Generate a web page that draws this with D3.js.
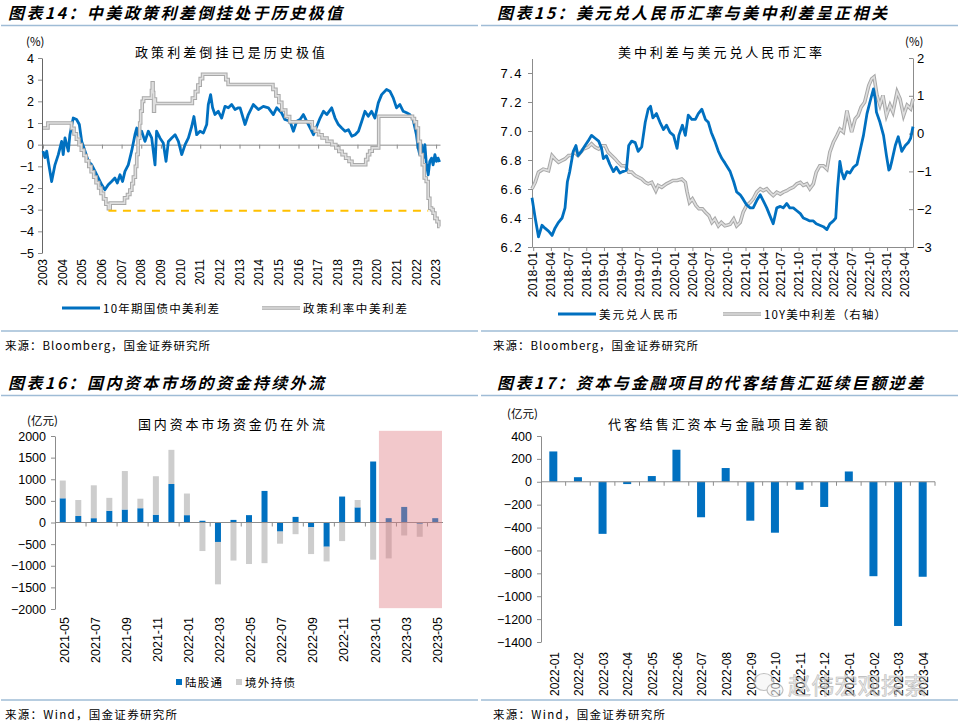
<!DOCTYPE html>
<html>
<head>
<meta charset="utf-8">
<script src="https://cdnjs.cloudflare.com/ajax/libs/d3/7.8.5/d3.min.js"></script>
<style>
  body { margin: 0; background: #fff; }
  svg text { font-family: "Noto Sans CJK SC", sans-serif; fill: #000; }
  .num { font-family: "Liberation Sans", Arial, sans-serif; font-size: 12px; }
  .title { font-size: 16px; font-weight: bold; font-style: italic; }
  .sub { font-size: 13px; }
  .small { font-size: 11.5px; }
</style>
</head>
<body>
<svg id="page" width="960" height="726"></svg>
<script>
// Chart 14: China minus US spreads, %
var bondSpread = [
  [2003.0,-0.3],[2003.1,-0.6],[2003.19,-0.3],[2003.27,-0.77],[2003.44,-1.7],[2003.61,-0.93],
  [2003.78,-0.46],[2003.95,0.15],[2004.03,-0.46],[2004.12,0.31],[2004.29,-0.3],[2004.37,0.46],
  [2004.54,1.23],[2004.71,1.16],[2004.85,0.93],[2004.97,0.15],[2005.14,-0.3],[2005.31,-0.77],
  [2005.48,-0.93],[2005.65,-1.23],[2005.82,-1.54],[2005.99,-1.85],[2006.15,-2.08],[2006.32,-1.85],
  [2006.49,-1.7],[2006.66,-1.54],[2006.78,-1.77],[2006.92,-1.39],[2007.05,-1.7],[2007.17,-1.23],
  [2007.34,-0.93],[2007.51,-0.3],[2007.68,0.46],[2007.77,0.77],[2007.85,0.31],[2008.02,0.62],
  [2008.19,0.15],[2008.36,0.62],[2008.53,0.31],[2008.7,-0.93],[2008.78,0.62],[2008.95,0.31],
  [2009.12,0.08],[2009.26,-0.77],[2009.38,0.15],[2009.55,0.31],[2009.72,0.46],[2009.89,0.15],
  [2010.06,-0.46],[2010.23,0.0],[2010.4,0.31],[2010.57,0.85],[2010.68,1.3],[2010.82,0.46],
  [2010.99,0.62],[2011.16,0.54],[2011.33,0.93],[2011.41,1.85],[2011.53,2.31],[2011.63,1.7],
  [2011.75,1.39],[2011.92,1.54],[2012.09,1.23],[2012.26,1.77],[2012.43,1.7],[2012.6,1.85],
  [2012.77,1.62],[2012.94,1.7],[2013.03,1.7],[2013.28,0.93],[2013.45,1.39],[2013.7,1.85],
  [2013.96,1.62],[2014.21,1.77],[2014.47,1.7],[2014.72,1.39],[2014.89,1.7],[2015.14,1.47],
  [2015.31,1.16],[2015.57,1.08],[2015.74,0.62],[2015.91,1.08],[2016.08,1.16],[2016.25,1.39],
  [2016.42,1.08],[2016.59,0.77],[2016.76,0.46],[2016.93,0.85],[2017.1,1.23],[2017.27,1.54],
  [2017.44,1.39],[2017.69,1.7],[2017.86,1.23],[2018.03,0.93],[2018.2,0.77],[2018.37,0.62],
  [2018.54,0.69],[2018.71,0.39],[2018.88,0.46],[2019.05,0.62],[2019.22,1.08],[2019.38,1.54],
  [2019.55,1.31],[2019.72,1.54],[2019.89,1.23],[2020.06,1.93],[2020.23,2.31],[2020.48,2.55],
  [2020.65,2.47],[2020.82,2.16],[2020.99,1.7],[2021.16,1.85],[2021.33,1.54],[2021.5,1.47],
  [2021.66,1.39],[2021.83,1.16],[2022.0,0.46],[2022.09,-0.15],[2022.17,-0.46],[2022.26,0.0],
  [2022.34,-0.62],[2022.43,0.0],[2022.51,-0.93],[2022.6,-1.39],[2022.68,-0.77],[2022.77,-0.62],
  [2022.85,-0.93],[2022.94,-0.46],[2023.02,-0.77],[2023.1,-0.62],[2023.18,-0.8]
];
var policySpread = [
  [2003.0,0.77],[2003.25,1.0],[2004.45,0.75],[2004.58,0.5],[2004.7,0.25],[2004.83,0.0],
  [2004.95,-0.25],[2005.08,-0.5],[2005.2,-0.75],[2005.33,-1.0],[2005.45,-1.25],[2005.58,-1.5],
  [2005.7,-1.75],[2005.83,-2.0],[2005.95,-2.25],[2006.08,-2.5],[2006.2,-2.75],[2006.33,-2.95],
  [2006.42,-2.7],[2007.15,-2.45],[2007.3,-2.3],[2007.42,-2.1],[2007.52,-1.8],[2007.6,-1.5],
  [2007.7,-1.0],[2007.77,-0.45],[2007.84,0.3],[2007.92,1.0],[2007.97,1.55],[2008.05,2.0],
  [2008.12,2.15],[2008.52,2.5],[2008.56,2.85],[2008.6,2.4],[2008.63,1.55],[2008.67,2.1],
  [2008.72,1.9],[2010.6,2.15],[2010.75,2.45],[2010.88,2.75],[2011.0,3.05],[2011.12,3.25],
  [2012.3,3.0],[2012.42,2.78],[2014.7,2.55],[2014.85,2.25],[2015.0,1.95],[2015.15,1.6],
  [2015.35,1.3],[2015.55,1.05],[2016.7,0.77],[2016.85,0.62],[2017.02,0.46],[2017.2,0.31],
  [2017.45,0.15],[2017.7,0.0],[2017.9,-0.15],[2018.05,-0.31],[2018.22,-0.46],[2018.4,-0.62],
  [2018.57,-0.77],[2018.72,-0.93],[2019.42,-0.69],[2019.52,-0.46],[2019.62,-0.3],[2019.75,-0.15],
  [2020.08,1.31],[2021.8,1.2],[2021.9,1.05],[2022.0,0.77],[2022.1,0.15],[2022.2,-0.46],
  [2022.3,-0.93],[2022.4,-1.54],[2022.5,-1.7],[2022.6,-2.47],[2022.68,-2.93],[2022.77,-3.0],
  [2022.85,-3.16],[2022.94,-3.4],[2023.05,-3.55],[2023.14,-3.78],[2023.18,-3.78]
];
var floorLevel = -3.05;
var floorSpan = [2006.33, 2022.6];
var years14 = d3.range(2003, 2024);

// Chart 15: USD/CNY (left) and 10Y US minus China spread (right), x = months since 2018-01
var usdCny = [
  [-0.2,6.54],[0.34,6.40],[0.9,6.27],[1.5,6.35],[2.0,6.33],[2.6,6.31],[3.2,6.28],[3.7,6.33],
  [4.3,6.37],[4.9,6.40],[5.4,6.47],[5.8,6.65],[6.2,6.72],[6.8,6.86],[7.25,6.90],[7.6,6.83],
  [8.2,6.86],[8.8,6.90],[9.3,6.93],[9.9,6.97],[10.5,6.95],[11.1,6.93],[11.6,6.88],[11.9,6.81],
  [12.4,6.83],[13.0,6.77],[13.6,6.72],[14.1,6.75],[14.7,6.71],[15.2,6.72],[15.8,6.73],[16.2,6.90],
  [16.7,6.93],[17.3,6.92],[17.8,6.86],[18.4,6.89],[19.0,7.06],[19.5,7.15],[19.9,7.17],[20.3,7.09],
  [20.9,7.12],[21.5,7.06],[22.1,7.01],[22.6,7.04],[23.2,6.99],[23.8,6.97],[24.4,6.88],[24.7,6.97],
  [25.3,7.04],[25.8,6.97],[26.3,7.11],[26.9,7.08],[27.5,7.08],[28.0,7.12],[28.6,7.15],[29.2,7.08],
  [29.7,7.06],[30.2,6.99],[30.8,6.93],[31.4,6.86],[32.0,6.81],[32.5,6.78],[33.4,6.72],[34.0,6.65],
  [34.5,6.58],[35.1,6.56],[35.6,6.53],[36.2,6.49],[36.8,6.47],[37.3,6.47],[37.9,6.52],[38.5,6.56],
  [39.0,6.52],[39.6,6.47],[40.1,6.42],[40.7,6.36],[41.3,6.47],[41.9,6.48],[42.4,6.47],[43.0,6.50],
  [43.5,6.47],[44.1,6.47],[44.7,6.45],[45.3,6.43],[45.8,6.40],[46.4,6.39],[46.9,6.38],[47.5,6.38],
  [48.0,6.36],[48.6,6.35],[49.2,6.34],[49.8,6.32],[50.3,6.36],[50.9,6.38],[51.3,6.40],[51.6,6.60],
  [52.0,6.79],[52.3,6.72],[52.7,6.67],[53.2,6.72],[53.7,6.71],[54.3,6.75],[54.9,6.77],[55.4,6.86],
  [56.0,6.97],[56.6,7.12],[57.1,7.20],[57.7,7.29],[58.0,7.22],[58.2,7.13],[58.8,7.06],[59.4,6.97],
  [59.9,6.83],[60.3,6.73],[60.5,6.74],[60.8,6.79],[61.4,6.90],[61.9,6.96],[62.5,6.86],[63.1,6.90],
  [63.6,6.92],[64.0,6.95],[64.4,7.03]
];
var usCnSpread = [
  [-0.2,-1.46],[0.34,-1.29],[0.9,-1.02],[1.7,-0.94],[2.6,-0.98],[3.2,-0.58],[3.7,-0.67],[4.3,-0.76],
  [4.9,-0.71],[5.4,-0.67],[6.0,-0.58],[6.5,-0.58],[7.0,-0.49],[7.6,-0.58],[8.5,-0.41],[9.3,-0.36],
  [9.9,-0.27],[10.5,-0.36],[11.1,-0.41],[11.6,-0.32],[12.2,-0.32],[12.7,-0.49],[13.3,-0.58],[13.9,-0.67],
  [14.4,-0.76],[15.0,-0.85],[15.6,-0.85],[16.2,-1.02],[16.7,-1.02],[17.3,-1.11],[17.8,-1.15],[18.4,-1.20],
  [19.0,-1.29],[19.5,-1.33],[20.1,-1.29],[20.8,-1.51],[21.2,-1.37],[21.8,-1.42],[22.6,-1.33],[23.1,-1.29],
  [23.7,-1.24],[24.4,-1.24],[25.2,-1.20],[25.8,-1.29],[26.1,-1.55],[26.5,-1.82],[27.0,-1.73],[27.6,-1.90],
  [28.1,-1.99],[28.7,-1.99],[29.2,-2.08],[29.8,-2.17],[30.3,-2.35],[30.8,-2.26],[31.4,-2.44],[31.9,-2.35],
  [32.5,-2.44],[33.0,-2.42],[33.4,-2.40],[34.0,-2.26],[34.5,-2.44],[35.1,-2.35],[35.6,-2.08],[36.2,-1.90],
  [36.8,-1.82],[37.3,-1.73],[37.9,-1.55],[38.5,-1.46],[39.0,-1.51],[39.6,-1.46],[40.1,-1.55],[40.7,-1.64],
  [41.3,-1.55],[41.9,-1.60],[42.4,-1.55],[43.0,-1.51],[43.5,-1.46],[44.1,-1.42],[44.7,-1.33],[45.3,-1.29],
  [45.8,-1.37],[46.4,-1.33],[46.9,-1.46],[47.5,-1.33],[48.0,-1.02],[48.6,-0.85],[49.2,-0.85],[49.8,-0.94],
  [50.3,-0.49],[50.9,-0.23],[51.5,-0.05],[52.0,0.12],[52.6,0.04],[53.2,0.61],[53.5,0.39],[54.0,0.04],
  [54.6,0.39],[55.1,0.48],[55.6,0.70],[56.2,0.83],[56.9,1.27],[57.4,1.45],[57.8,1.50],[58.3,1.01],
  [58.8,0.75],[59.3,1.01],[59.9,0.48],[60.5,0.75],[61.0,0.57],[61.7,1.10],[62.2,0.92],[62.8,0.48],
  [63.4,0.75],[64.0,0.66],[64.4,0.92]
];
var quarterTicks = d3.range(0, 64, 3);

// Chart 16: monthly flows, 亿元 (bond part stacked on the northbound part)
var months16 = ["2021-05","2021-06","2021-07","2021-08","2021-09","2021-10","2021-11","2021-12",
  "2022-01","2022-02","2022-03","2022-04","2022-05","2022-06","2022-07","2022-08","2022-09",
  "2022-10","2022-11","2022-12","2023-01","2023-02","2023-03","2023-04","2023-05"];
var northbound = [560,150,100,270,300,330,180,890,170,40,-450,60,170,730,-210,130,-110,-560,600,350,1410,100,360,-30,100];
var foreignBonds = [410,370,760,300,890,220,890,790,500,-660,-980,-880,-960,-940,-280,-270,-620,-340,-430,170,-860,-830,-300,-300,-15];
var highlight16 = { from: "2023-02", top: 2120, bottom: -1980 };

// Chart 17: capital & financial account FX settlement balance, 亿元
var months17 = ["2022-01","2022-02","2022-03","2022-04","2022-05","2022-06","2022-07","2022-08",
  "2022-09","2022-10","2022-11","2022-12","2023-01","2023-02","2023-03","2023-04"];
var settleBalance = [265,40,-455,-20,50,280,-310,120,-340,-445,-70,-220,90,-825,-1260,-830];

var BLUE = "#0070c0", AXIS = "#8c8c8c", RULE = "#9fbcd6";
var svg = d3.select("#page");

// shared bits -------------------------------------------------------------
function frame(x0, yTitle, title, titleLen, yRule, ySource, source, sourceLen) {
  svg.append("text").attr("class", "title")
     .attr("x", x0 === 0 ? 8 : 497)
     .attr("y", yTitle).attr("textLength", titleLen).attr("lengthAdjust", "spacing")
     .text(title);
  svg.append("line").attr("x1", x0 + 1).attr("x2", x0 + 478)
     .attr("y1", yRule).attr("y2", yRule)
     .attr("stroke", RULE).attr("stroke-width", 1.6);
  svg.append("line").attr("x1", x0 + 1).attr("x2", x0 + 478)
     .attr("y1", ySource - 19).attr("y2", ySource - 19)
     .attr("stroke", RULE).attr("stroke-width", 1.6);
  svg.append("text").attr("class", "small")
     .attr("x", x0 === 0 ? 5 : 493).attr("y", ySource)
     .attr("textLength", sourceLen).attr("lengthAdjust", "spacing")
     .text(source);
}

function styleAxis(g, size) {
  g.selectAll(".domain").attr("stroke", AXIS);
  g.selectAll(".tick line").attr("stroke", AXIS);
  g.selectAll("text").attr("class", "num").style("font-size", (size || 12) + "px");
}

function rotLabels(items, xf, yTop, size, fmt) {
  svg.append("g").selectAll("text").data(items).enter().append("text")
     .attr("class", "num")
     .style("font-size", size + "px")
     .attr("transform", function (d) { return "translate(" + xf(d) + "," + yTop + ") rotate(-90)"; })
     .attr("text-anchor", "end")
     .attr("dy", "0.35em")
     .text(fmt);
}

function grayLine(g, data, line) {
  g.append("path").datum(data).attr("d", line)
   .attr("fill", "none").attr("stroke", "#a8a8a8").attr("stroke-width", 3.6);
  g.append("path").datum(data).attr("d", line)
   .attr("fill", "none").attr("stroke", "#dedede").attr("stroke-width", 1.6);
}

function legendLine(x, y, color, label, len, gray) {
  if (gray) {
    svg.append("line").attr("x1", x).attr("x2", x + 38).attr("y1", y).attr("y2", y)
       .attr("stroke", "#a8a8a8").attr("stroke-width", 3.6);
    svg.append("line").attr("x1", x).attr("x2", x + 38).attr("y1", y).attr("y2", y)
       .attr("stroke", "#dedede").attr("stroke-width", 1.6);
  } else {
    svg.append("line").attr("x1", x).attr("x2", x + 38).attr("y1", y).attr("y2", y)
       .attr("stroke", color).attr("stroke-width", 3);
  }
  svg.append("text").attr("class", "small").attr("x", x + 41).attr("y", y + 4.5)
     .attr("textLength", len).attr("lengthAdjust", "spacing").text(label);
}

// Chart 14 ------------------------------------------------------------------
frame(0, 19, "图表14：中美政策利差倒挂处于历史极值", 334, 25.5, 350, "来源：Bloomberg，国金证券研究所", 205);
svg.append("text").attr("class", "sub").attr("x", 135).attr("y", 57)
   .attr("textLength", 190).attr("lengthAdjust", "spacing").text("政策利差倒挂已是历史极值");
svg.append("text").attr("class", "small").attr("x", 26).attr("y", 46).text("(%)");

var x14 = d3.scaleLinear().domain([2002.95, 2023.2]).range([42, 440]);
var y14 = d3.scaleLinear().domain([-5, 4]).range([253, 58]);

var g14 = svg.append("g");
g14.append("g").attr("transform", "translate(42,0)")
   .call(d3.axisLeft(y14).tickValues(d3.range(-5, 5)).tickSize(4).tickSizeOuter(0).tickPadding(4).tickFormat(d3.format("d")))
   .call(styleAxis, 12.5);
g14.append("g").attr("transform", "translate(0," + y14(0) + ")")
   .call(d3.axisBottom(x14).tickValues(years14).tickSize(4).tickSizeOuter(0).tickFormat(""))
   .call(styleAxis);
g14.select("g:last-child .domain").attr("stroke", "#666");

var line14 = d3.line().x(function (d) { return x14(d[0]); }).y(function (d) { return y14(d[1]); });
g14.append("path").datum(bondSpread).attr("d", line14)
   .attr("fill", "none").attr("stroke", BLUE).attr("stroke-width", 2.8).attr("stroke-linejoin", "round");
grayLine(g14, policySpread, line14.curve(d3.curveStepAfter));
g14.append("line")
   .attr("x1", x14(floorSpan[0])).attr("x2", x14(floorSpan[1]))
   .attr("y1", y14(floorLevel)).attr("y2", y14(floorLevel))
   .attr("stroke", "#ffc000").attr("stroke-width", 2).attr("stroke-dasharray", "8,6.5");

rotLabels(years14, x14, 259, 12, function (d) { return d; });
legendLine(62, 308, BLUE, "10年期国债中美利差", 116);
legendLine(262, 308, null, "政策利率中美利差", 104, true);

// Chart 15 ------------------------------------------------------------------
frame(480, 19, "图表15：美元兑人民币汇率与美中利差呈正相关", 390, 25.5, 350, "来源：Bloomberg，国金证券研究所", 205);
svg.append("text").attr("class", "sub").attr("x", 618).attr("y", 57)
   .attr("textLength", 204).attr("lengthAdjust", "spacing").text("美中利差与美元兑人民币汇率");
svg.append("text").attr("class", "small").attr("x", 905).attr("y", 46).text("(%)");

var x15 = d3.scaleLinear().domain([-0.2, 64.4]).range([532, 913]);
var yL15 = d3.scaleLinear().domain([6.2, 7.5]).range([247, 58.5]);
var yR15 = d3.scaleLinear().domain([-3, 2]).range([247, 58]);

var g15 = svg.append("g");
g15.append("g").attr("transform", "translate(532,0)")
   .call(d3.axisLeft(yL15).tickValues([6.2, 6.4, 6.6, 6.8, 7.0, 7.2, 7.4]).tickSize(4).tickSizeOuter(0).tickPadding(5).tickFormat(d3.format(".1f")))
   .call(styleAxis, 13);
g15.selectAll("text").style("letter-spacing", "1.5px");
g15.append("g").attr("transform", "translate(913,0)")
   .call(d3.axisRight(yR15).tickValues(d3.range(-3, 3)).tickSize(-4).tickSizeOuter(0).tickPadding(4).tickFormat(d3.format("d")))
   .call(styleAxis, 13);
g15.append("g").attr("transform", "translate(0,247)")
   .call(d3.axisBottom(x15).tickValues(quarterTicks).tickSize(4).tickSizeOuter(0).tickFormat(""))
   .call(styleAxis);

grayLine(g15, usCnSpread, d3.line().x(function (d) { return x15(d[0]); }).y(function (d) { return yR15(d[1]); }));
g15.append("path").datum(usdCny)
   .attr("d", d3.line().x(function (d) { return x15(d[0]); }).y(function (d) { return yL15(d[1]); }))
   .attr("fill", "none").attr("stroke", BLUE).attr("stroke-width", 2.8).attr("stroke-linejoin", "round");

rotLabels(quarterTicks, x15, 252, 12.3, function (m) {
  var mo = m % 12 + 1;
  return (2018 + Math.floor(m / 12)) + "-" + (mo < 10 ? "0" : "") + mo;
});
legendLine(558, 314, BLUE, "美元兑人民币", 79);
legendLine(723, 314, null, "10Y美中利差（右轴）", 122, true);

// Chart 16 ------------------------------------------------------------------
frame(0, 389, "图表16：国内资本市场的资金持续外流", 316, 395.5, 719, "来源：Wind，国金证券研究所", 172);
svg.append("text").attr("class", "sub").attr("x", 138).attr("y", 429)
   .attr("textLength", 187).attr("lengthAdjust", "spacing").text("国内资本市场资金仍在外流");
svg.append("text").attr("class", "small").attr("x", 27).attr("y", 425).text("(亿元)");

var x16 = d3.scaleBand().domain(months16).range([55, 443]);
var y16 = d3.scaleLinear().domain([-2000, 2000]).range([609, 436]);
var table16 = months16.map(function (m, i) { return { month: m, hk: northbound[i], bond: foreignBonds[i] }; });
var stack16 = d3.stack().keys(["hk", "bond"]).offset(d3.stackOffsetDiverging)(table16);
var colors16 = { hk: BLUE, bond: "#cdcdcd" };

var g16 = svg.append("g");
g16.selectAll("g.layer").data(stack16).enter().append("g")
   .attr("class", "layer").attr("fill", function (s) { return colors16[s.key]; })
   .selectAll("rect").data(function (s) { return s; }).enter().append("rect")
   .attr("x", function (d) { return x16(d.data.month) + (x16.step() - 6) / 2; })
   .attr("width", 6)
   .attr("y", function (d) { return y16(d[1]); })
   .attr("height", function (d) { return y16(d[0]) - y16(d[1]); });

g16.append("g").attr("transform", "translate(55,0)")
   .call(d3.axisLeft(y16).tickValues(d3.range(-2000, 2001, 500)).tickSize(4).tickSizeOuter(0).tickPadding(5).tickFormat(d3.format("d")))
   .call(styleAxis, 12.5);
g16.append("line").attr("x1", 55).attr("x2", 443).attr("y1", y16(0)).attr("y2", y16(0)).attr("stroke", AXIS);
g16.selectAll("line.tk").data(months16.filter(function (m, i) { return i > 0 && i % 2 === 0; }))
   .enter().append("line").attr("class", "tk")
   .attr("x1", function (m) { return x16(m); }).attr("x2", function (m) { return x16(m); })
   .attr("y1", y16(0)).attr("y2", y16(0) + 4).attr("stroke", AXIS);

g16.append("rect")
   .attr("x", x16(highlight16.from) - 2)
   .attr("width", 443 - x16(highlight16.from) + 1)
   .attr("y", y16(highlight16.top))
   .attr("height", y16(highlight16.bottom) - y16(highlight16.top))
   .attr("fill", "#e07c84").attr("opacity", 0.42);

rotLabels(months16.filter(function (m, i) { return i % 2 === 0; }),
  function (m) { return x16(m) + x16.bandwidth() / 2 + 2; }, 617, 12.5, function (m) { return m; });

svg.append("rect").attr("x", 176).attr("y", 679).attr("width", 6).attr("height", 6).attr("fill", BLUE);
svg.append("text").attr("class", "small").attr("x", 185).attr("y", 686.5)
   .attr("textLength", 37).attr("lengthAdjust", "spacing").text("陆股通");
svg.append("rect").attr("x", 236).attr("y", 679).attr("width", 6).attr("height", 6).attr("fill", "#cdcdcd");
svg.append("text").attr("class", "small").attr("x", 245).attr("y", 686.5)
   .attr("textLength", 50).attr("lengthAdjust", "spacing").text("境外持债");

// Chart 17 ------------------------------------------------------------------
frame(480, 389, "图表17：资本与金融项目的代客结售汇延续巨额逆差", 426, 395.5, 719, "来源：Wind，国金证券研究所", 172);
svg.append("text").attr("class", "sub").attr("x", 608).attr("y", 429)
   .attr("textLength", 220).attr("lengthAdjust", "spacing").text("代客结售汇资本与金融项目差额");
svg.append("text").attr("class", "small").attr("x", 507).attr("y", 418).text("(亿元)");

var x17 = d3.scaleBand().domain(months17).range([541, 935]);
var y17 = d3.scaleLinear().domain([-1400, 400]).range([642, 436]);

var g17 = svg.append("g");
g17.selectAll("rect").data(months17).enter().append("rect")
   .attr("x", function (m) { return x17(m) + (x17.step() - 8) / 2; })
   .attr("width", 8)
   .attr("y", function (m, i) { return y17(Math.max(0, settleBalance[i])); })
   .attr("height", function (m, i) { return Math.abs(y17(settleBalance[i]) - y17(0)); })
   .attr("fill", BLUE);

g17.append("g").attr("transform", "translate(541,0)")
   .call(d3.axisLeft(y17).tickValues(d3.range(-1400, 401, 200)).tickSize(4).tickSizeOuter(0).tickPadding(5).tickFormat(d3.format("d")))
   .call(styleAxis, 12.5);
g17.append("line").attr("x1", 541).attr("x2", 935).attr("y1", y17(0)).attr("y2", y17(0)).attr("stroke", AXIS);
g17.selectAll("line.tk").data(months17.slice(1).concat(["end"]))
   .enter().append("line").attr("class", "tk")
   .attr("x1", function (m) { return m === "end" ? 935 : x17(m); })
   .attr("x2", function (m) { return m === "end" ? 935 : x17(m); })
   .attr("y1", y17(0)).attr("y2", y17(0) + 4).attr("stroke", AXIS);

rotLabels(months17, function (m) { return x17(m) + x17.bandwidth() / 2 + 1; }, 652, 12, function (m) { return m; });

// watermark
var wm = svg.append("g").attr("opacity", 0.6);
wm.append("ellipse").attr("cx", 764).attr("cy", 682).attr("rx", 10).attr("ry", 8.5)
  .attr("fill", "#f4f4f4").attr("stroke", "#9a9a9a").attr("stroke-width", 1.2);
wm.append("ellipse").attr("cx", 775).attr("cy", 690).attr("rx", 8).attr("ry", 6.5)
  .attr("fill", "#f4f4f4").attr("stroke", "#9a9a9a").attr("stroke-width", 1.2);
wm.append("text").attr("x", 788).attr("y", 694).style("font-size", "23px")
  .attr("textLength", 139).attr("lengthAdjust", "spacing")
  .style("fill", "#dcdcdc").attr("stroke", "#8f8f8f").attr("stroke-width", 0.6)
  .text("赵伟宏观探索");
</script>
</body>
</html>
